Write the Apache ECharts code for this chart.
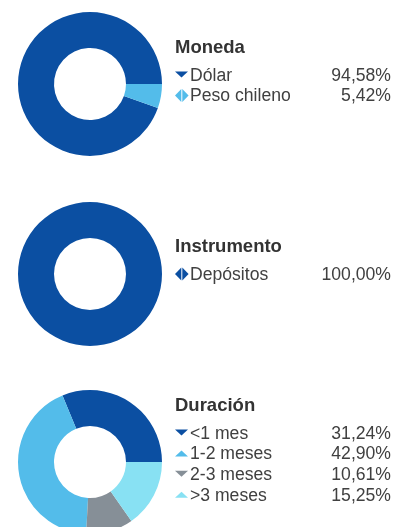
<!DOCTYPE html>
<html>
<head>
<meta charset="utf-8">
<script src="https://cdn.jsdelivr.net/npm/echarts@6/dist/echarts.min.js"></script>
<style>
  html, body { margin: 0; padding: 0; background: #ffffff; }
  #chart { width: 393px; height: 527px; }
</style>
</head>
<body>
<div id="chart"></div>
<script>
// Portfolio composition: currency, instrument and duration
const monedaTitle = 'Moneda';
const monedaNames = ['Dólar', 'Peso chileno'];
const monedaValues = [94.58, 5.42];

const instrumentoTitle = 'Instrumento';
const instrumentoNames = ['Depósitos'];
const instrumentoValues = [100.00];

const duracionTitle = 'Duración';
const duracionNames = ['<1 mes', '1-2 meses', '2-3 meses', '>3 meses'];
const duracionValues = [31.24, 42.90, 10.61, 15.25];

const C_DARK = '#0b4fa2';
const C_LIGHT = '#53bcea';
const C_GRAY = '#868f97';
const C_CYAN = '#88e1f3';

const blocks = [
  { title: monedaTitle, names: monedaNames, values: monedaValues,
    colors: [C_DARK, C_LIGHT], icons: ['down', 'diamond'],
    center: [90, 84], titleY: 48, rowY0: 76 },
  { title: instrumentoTitle, names: instrumentoNames, values: instrumentoValues,
    colors: [C_DARK], icons: ['diamond'],
    center: [90, 274], titleY: 247, rowY0: 275 },
  { title: duracionTitle, names: duracionNames, values: duracionValues,
    colors: [C_DARK, C_LIGHT, C_GRAY, C_CYAN], icons: ['down', 'up', 'down', 'up'],
    center: [90, 462], titleY: 406, rowY0: 434 }
];

const ROW_STEP = 20.6;
const ICON_X = 175;
const NAME_X = 190;
const VALUE_X = 391;
const TEXT_COLOR = '#404040';
const ITEM_FONT = '17.6px "Liberation Sans", Arial, sans-serif';
const TITLE_FONT = 'bold 18.5px "Liberation Sans", Arial, sans-serif';

function fmt(v) {
  return v.toFixed(2).replace('.', ',') + '%';
}

function iconShapes(type, y, color) {
  const x = ICON_X;
  if (type === 'down') {
    return [{ type: 'polygon', shape: { points: [[x, y - 3.5], [x + 13, y - 3.5], [x + 6.5, y + 2.5]] }, style: { fill: color } }];
  }
  if (type === 'up') {
    return [{ type: 'polygon', shape: { points: [[x, y + 3], [x + 13, y + 3], [x + 6.5, y - 3]] }, style: { fill: color } }];
  }
  return [
    { type: 'polygon', shape: { points: [[x, y], [x + 6.3, y - 6.5], [x + 6.3, y + 6.5]] }, style: { fill: color } },
    { type: 'polygon', shape: { points: [[x + 7.3, y - 6.5], [x + 7.3, y + 6.5], [x + 13.6, y]] }, style: { fill: color } }
  ];
}

const series = [];
const graphic = [];

blocks.forEach(b => {
  series.push({
    type: 'pie',
    center: b.center,
    radius: [36, 72],
    startAngle: 0,
    clockwise: false,
    silent: true,
    label: { show: false },
    labelLine: { show: false },
    itemStyle: { borderWidth: 0 },
    data: b.names.map((n, i) => ({ name: n, value: b.values[i], itemStyle: { color: b.colors[i] } }))
  });

  graphic.push({
    type: 'text',
    style: { text: b.title, x: ICON_X, y: b.titleY, font: TITLE_FONT,
             fill: '#333333', textAlign: 'left', textVerticalAlign: 'middle' }
  });

  b.names.forEach((n, i) => {
    const y = b.rowY0 + i * ROW_STEP;
    iconShapes(b.icons[i], y - 1, b.colors[i]).forEach(s => graphic.push(s));
    graphic.push({
      type: 'text',
      style: { text: n, x: NAME_X, y: y, font: ITEM_FONT,
               fill: TEXT_COLOR, textAlign: 'left', textVerticalAlign: 'middle' }
    });
    graphic.push({
      type: 'text',
      style: { text: fmt(b.values[i]), x: VALUE_X, y: y, font: ITEM_FONT,
               fill: TEXT_COLOR, textAlign: 'right', textVerticalAlign: 'middle' }
    });
  });
});

const chart = echarts.init(document.getElementById('chart'), null, { renderer: 'canvas' });
chart.setOption({
  animation: false,
  backgroundColor: '#ffffff',
  series: series,
  graphic: graphic
});
</script>
</body>
</html>
